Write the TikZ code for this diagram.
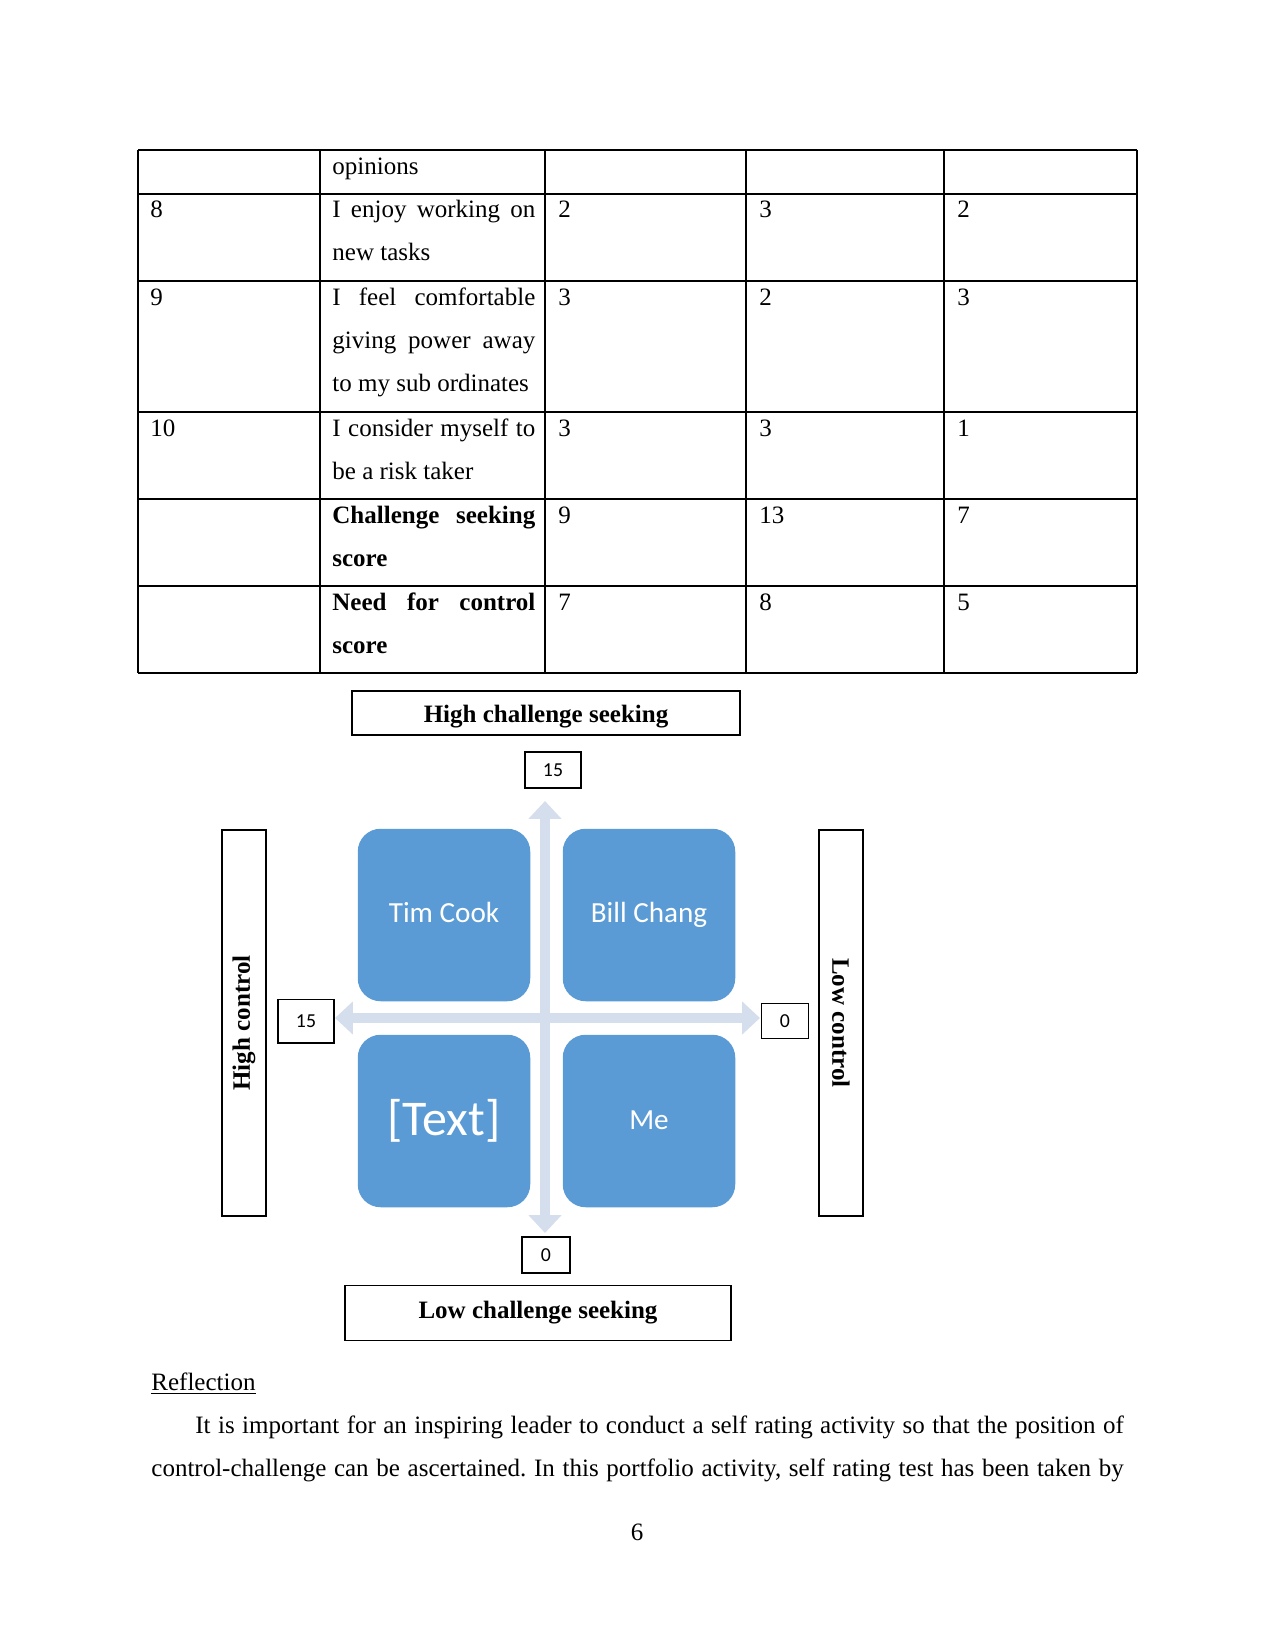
\documentclass[tikz,border=0pt]{standalone}
\usepackage{fontspec}
\setmainfont{Liberation Serif}
\newfontfamily\calibri{Carlito}
\usepackage{tikz}
\usetikzlibrary{
  arrows.meta,  % 坐标轴两端的三角箭头
  positioning   % 节点相对定位
}
\definecolor{quadblue}{RGB}{91,155,213}
\definecolor{axisblue}{RGB}{213,222,236}
\frenchspacing

\begin{document}
\begin{tikzpicture}[x=0.48pt, y=-0.48pt,
  txt/.style={anchor=base west, inner sep=0pt, font=\fontsize{12pt}{14pt}\selectfont},
  tabline/.style={line width=0.5pt},
  labelbox/.style={draw, line width=0.8pt, inner sep=0pt, font=\fontsize{12pt}{14pt}\selectfont\bfseries},
  numbox/.style={draw, line width=0.8pt, inner sep=0pt, font=\calibri\fontsize{9.5pt}{11pt}\selectfont},
  quad/.style={fill=quadblue, rounded corners=11pt, minimum width=82.8pt, minimum height=82.8pt,
    inner sep=0pt, text=white, font=\calibri\fontsize{14pt}{17pt}\selectfont},
  axisline/.style={axisblue, line width=4.8pt,
    {Triangle[length=8.6pt,width=15.4pt]}-{Triangle[length=8.6pt,width=15.4pt]}}]
  % 页面大小（按 150 dpi 的像素坐标）
  \useasboundingbox (0,0) rectangle (1275,1651);
  \def\cellw{97.4pt}

  % 1. 表格线
  \draw[tabline] (138,150) -- (1137,150);
  \draw[tabline] (138,194) -- (1137,194);
  \draw[tabline] (138,281) -- (1137,281);
  \draw[tabline] (138,412) -- (1137,412);
  \draw[tabline] (138,499) -- (1137,499);
  \draw[tabline] (138,586) -- (1137,586);
  \draw[tabline] (138,673) -- (1137,673);
  \draw[tabline] (138,150) -- (138,673);
  \draw[tabline] (320,150) -- (320,673);
  \draw[tabline] (545,150) -- (545,673);
  \draw[tabline] (746,150) -- (746,673);
  \draw[tabline] (944,150) -- (944,673);
  \draw[tabline] (1137,150) -- (1137,673);

  % 2. 表格文字
  \node[txt] (opin) at (332,175) {opinions};
  % 第 8 题
  \node[txt] (no8) at (150,218) {8};
  \node[txt] (q8a) at (332,218) {\makebox[\cellw][s]{I enjoy working on}};
  \node[txt] (q8b) at (332,261) {new tasks};
  \node[txt] (a8) at (558,218) {2};
  \node[txt] (b8) at (759,218) {3};
  \node[txt] (c8) at (957,218) {2};
  % 第 9 题
  \node[txt] (no9) at (150,305) {9};
  \node[txt] (q9a) at (332,305) {\makebox[\cellw][s]{I feel comfortable}};
  \node[txt] (q9b) at (332,348) {\makebox[\cellw][s]{giving power away}};
  \node[txt] (q9c) at (332,391) {to my sub ordinates};
  \node[txt] (a9) at (558,305) {3};
  \node[txt] (b9) at (759,305) {2};
  \node[txt] (c9) at (957,305) {3};
  % 第 10 题
  \node[txt] (no10) at (150,436) {10};
  \node[txt] (q10a) at (332,436) {\makebox[\cellw][s]{I consider myself to}};
  \node[txt] (q10b) at (332,479) {be a risk taker};
  \node[txt] (a10) at (558,436) {3};
  \node[txt] (b10) at (759,436) {3};
  \node[txt] (c10) at (957,436) {1};
  % 得分
  \node[txt, font=\fontsize{12pt}{14pt}\selectfont\bfseries] (csa) at (332,523) {\makebox[\cellw][s]{Challenge seeking}};
  \node[txt, font=\fontsize{12pt}{14pt}\selectfont\bfseries] (csb) at (332,566) {score};
  \node[txt] (acs) at (558,523) {9};
  \node[txt] (bcs) at (759,523) {13};
  \node[txt] (ccs) at (957,523) {7};
  \node[txt, font=\fontsize{12pt}{14pt}\selectfont\bfseries] (nca) at (332,610) {\makebox[\cellw][s]{Need for control}};
  \node[txt, font=\fontsize{12pt}{14pt}\selectfont\bfseries] (ncb) at (332,653) {score};
  \node[txt] (anc) at (558,610) {7};
  \node[txt] (bnc) at (759,610) {8};
  \node[txt] (cnc) at (957,610) {5};

  % 3. 坐标轴（中心约在 (545,1018)）
  \coordinate (ytop) at (545,801);
  \coordinate (ybot) at (545,1233);
  \coordinate (xleft) at (335,1018);
  \coordinate (xright) at (760,1018);
  \draw[axisline] (ybot) -- (ytop);
  \draw[axisline] (xleft) -- (xright);

  % 4. 四个象限方块
  \node[quad, text depth=2.9pt] (timcook) at (444,915) {Tim Cook};
  \node[quad] (billchang) at (649,915) {Bill Chang};
  \node[quad, font=\calibri\fontsize{24pt}{28pt}\selectfont] (placeholder) at (444,1121) {[Text]};
  \node[quad, text depth=1pt] (me) at (649,1121) {Me};

  % 5. 外围标签框
  \node[labelbox, minimum width=186pt, minimum height=21.3pt, text height=9.5pt, text depth=0pt] (highcs) at (546,713) {High challenge seeking};
  \node[labelbox, minimum width=185.5pt, minimum height=26.3pt] (lowcs) at (538,1313) {Low challenge seeking};
  \node[labelbox, rotate=90, minimum width=185.5pt, minimum height=21.3pt] (highctl) at (244,1023) {High control};
  \node[labelbox, rotate=-90, minimum width=185.5pt, minimum height=21.3pt] (lowctl) at (841,1023) {Low control};

  % 6. 刻度数字框
  \node[numbox, minimum width=26.8pt, minimum height=17.2pt] (topnum) at (553,770) {15};
  \node[numbox, minimum width=26.7pt, minimum height=20.8pt] (leftnum) at (306,1021) {15};
  \node[numbox, minimum width=22.7pt, minimum height=16.7pt] (rightnum) at (785,1021) {0};
  \node[numbox, minimum width=22.8pt, minimum height=17.2pt] (botnum) at (546,1255) {0};

  % 7. 正文
  \node[txt] (reflect) at (151,1390) {\underline{Reflection}};
  \node[txt] (para1) at (195,1433) {\makebox[445.6pt][s]{It is important for an inspiring leader to conduct a self rating activity so that the position of}};
  \node[txt] (para2) at (151,1476) {\makebox[466.7pt][s]{control-challenge can be ascertained. In this portfolio activity, self rating test has been taken by}};
  \node[txt, anchor=base] (pageno) at (637,1540) {6};
\end{tikzpicture}
\end{document}
